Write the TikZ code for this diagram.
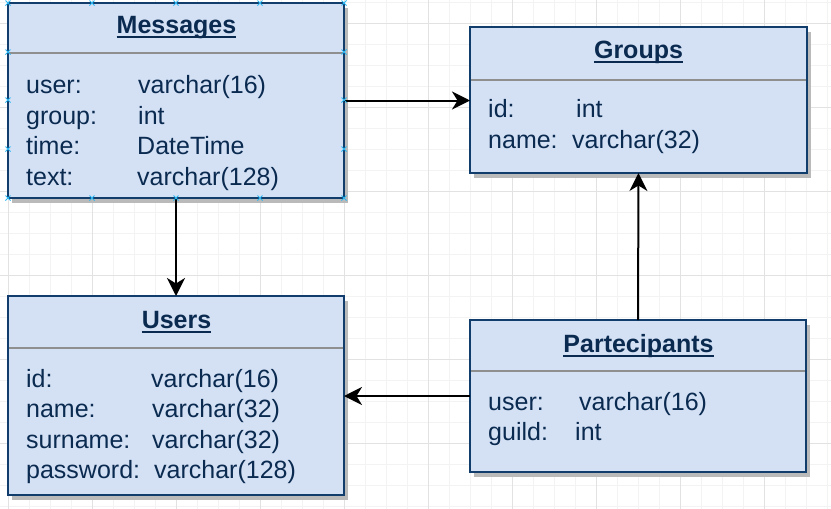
\documentclass[tikz,border=0pt]{standalone}
\usepackage{fontspec}
\setmainfont{Liberation Sans}
\usetikzlibrary{arrows.meta,shadows}
\definecolor{boxfill}{HTML}{D4E1F5}
\definecolor{boxline}{HTML}{103D6C}
\definecolor{txt}{HTML}{0A2A50}
\definecolor{sepc}{HTML}{8F8F8F}
\definecolor{gmajor}{HTML}{E2E2E2}
\definecolor{gminor}{HTML}{F3F3F3}
\definecolor{handlec}{HTML}{29B6F2}
\begin{document}
\begin{tikzpicture}[x=1pt,y=-1pt,
 entity/.style={draw=boxline, line width=2.3pt, fill=boxfill, rectangle, inner sep=0pt, outer sep=0pt,
   drop shadow={shadow xshift=4pt, shadow yshift=-5pt, fill=black!27, opacity=1}},
 field/.style={anchor=base west, inner sep=0pt, text=txt, font=\fontsize{25}{30}\selectfont},
 titletext/.style={anchor=base, inner sep=0pt, text=txt, font=\fontsize{25}{30}\selectfont\bfseries},
 sepline/.style={draw=sepc, line width=2pt},
 uline/.style={draw=txt, line width=2pt},
 arr/.style={draw=black, line width=2pt, -{Stealth[length=18pt,width=18pt,inset=5.5pt]}},
 gmin/.style={draw=gminor, line width=1pt},
 gmaj/.style={draw=gmajor, line width=1pt},
 handlemark/.style={draw=handlec, line width=1pt}
]
\useasboundingbox (0,0) rectangle (831,509);
\fill[white] (0,0) rectangle (831,509);
% grid
\foreach \k in {0,...,39} \draw[gmin] ({8+21*\k},0) -- ({8+21*\k},509);
\foreach \k in {0,...,24} \draw[gmin] (0,{2+21*\k}) -- (831,{2+21*\k});
\foreach \k in {0,...,9} \draw[gmaj] ({8+84*\k},0) -- ({8+84*\k},509);
\foreach \k in {0,...,5} \draw[gmaj] (0,{23+84*\k}) -- (831,{23+84*\k});

% boxes
\node[entity, minimum width=336pt, minimum height=195pt] (msg) at (176,100.5) {};
\node[entity, minimum width=337pt, minimum height=146pt] (grp) at (638.5,100) {};
\node[entity, minimum width=336pt, minimum height=199pt] (usr) at (176,395.5) {};
\node[entity, minimum width=336pt, minimum height=152pt] (par) at (638,396) {};

% separators
\draw[sepline] (9,53) -- (343,53);
\draw[sepline] (471,79.5) -- (806,79.5);
\draw[sepline] (9,348) -- (343,348);
\draw[sepline] (471,371) -- (805,371);

% titles
\node[titletext] (tmsg) at (176.5,33) {Messages};
\draw[uline] ([yshift=-4pt]tmsg.base west) -- ([yshift=-4pt]tmsg.base east);
\node[titletext] (tgrp) at (638.5,58) {Groups};
\draw[uline] ([yshift=-4pt]tgrp.base west) -- ([yshift=-4pt]tgrp.base east);
\node[titletext] (tusr) at (176.5,328) {Users};
\draw[uline] ([yshift=-4pt]tusr.base west) -- ([yshift=-4pt]tusr.base east);
\node[titletext] (tpar) at (638.5,352) {Partecipants};
\draw[uline] ([yshift=-4pt]tpar.base west) -- ([yshift=-4pt]tpar.base east);

% Messages fields
\node[field] (m1a) at (26,93) {user:};
\node[field] (m1b) at (138,93) {varchar(16)};
\node[field] (m2a) at (26,124) {group:};
\node[field] (m2b) at (138,124) {int};
\node[field] (m3a) at (26,154) {time:};
\node[field] (m3b) at (137,154) {DateTime};
\node[field] (m4a) at (26,185) {text:};
\node[field] (m4b) at (137,185) {varchar(128)};

% Groups fields
\node[field] (g1a) at (488,117) {id:};
\node[field] (g1b) at (576,117) {int};
\node[field] (g2a) at (488,148) {name:};
\node[field] (g2b) at (572,148) {varchar(32)};

% Users fields
\node[field] (u1a) at (26,387) {id:};
\node[field] (u1b) at (151,387) {varchar(16)};
\node[field] (u2a) at (26,417) {name:};
\node[field] (u2b) at (152,417) {varchar(32)};
\node[field] (u3a) at (26,448) {surname:};
\node[field] (u3b) at (152,448) {varchar(32)};
\node[field] (u4a) at (26,478) {password:};
\node[field] (u4b) at (154,478) {varchar(128)};

% Partecipants fields
\node[field] (p1a) at (488,410) {user:};
\node[field] (p1b) at (579,410) {varchar(16)};
\node[field] (p2a) at (488,440) {guild:};
\node[field] (p2b) at (575,440) {int};

% connectors
\draw[arr] (msg.east) -- (grp.west |- msg.east);
\draw[arr] (msg.south) -- (usr.north);
\draw[arr] (par.north) -- (grp.south);
\draw[arr] (par.west) -- (usr.east |- par.west);

% selection handles on Messages
\foreach \hx/\hy in {8/3,92/3,176/3,260/3,344/3,8/198,92/198,176/198,260/198,344/198,8/52,8/100,8/149,344/52,344/100,344/149}{
  \draw[handlemark] ({\hx-2.5},{\hy-2.5}) -- ({\hx+2.5},{\hy+2.5}) ({\hx-2.5},{\hy+2.5}) -- ({\hx+2.5},{\hy-2.5});
}
\end{tikzpicture}
\end{document}
